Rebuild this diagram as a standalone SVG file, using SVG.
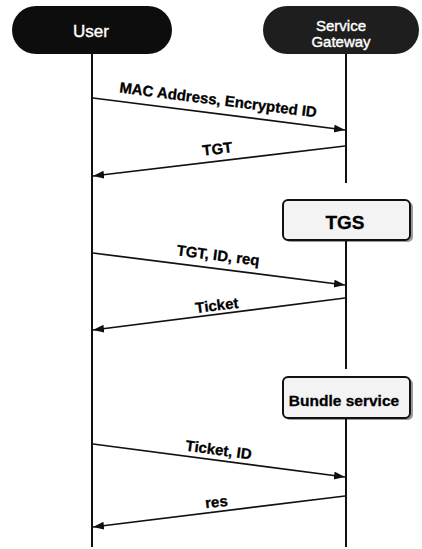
<svg xmlns="http://www.w3.org/2000/svg" width="422" height="549" viewBox="0 0 422 549">
<defs>
<style>
.pill{fill:#0d0d0d}
.pill2{fill:#1e1e1e}
.ptxt{font-family:"Liberation Sans",Arial,sans-serif;fill:#fff;text-anchor:middle;stroke:#fff;stroke-width:0.4}
.box{fill:#f3f3f3;stroke:#111;stroke-width:2}
.shadow{fill:#9a9a9a}
.btxt{font-family:"Liberation Sans",Arial,sans-serif;font-weight:bold;fill:#000;text-anchor:middle;stroke:#000;stroke-width:0.3}
.life{stroke:#111;stroke-width:2;fill:none}
.msg{stroke:#111;stroke-width:1.7;fill:none;marker-end:url(#ah)}
.lbl{font-family:"Liberation Sans",Arial,sans-serif;font-weight:bold;font-size:15px;fill:#000;text-anchor:middle;stroke:#000;stroke-width:0.3}
</style>
<marker id="ah" markerUnits="userSpaceOnUse" markerWidth="12" markerHeight="9" refX="11" refY="4" orient="auto">
<path d="M0,0 L11,4 L0,8 z" fill="#111"/>
</marker>
</defs>
<rect width="422" height="549" fill="#fff"/>

<g id="user">
<rect class="pill" x="12" y="6" width="160" height="48" rx="24"/>
<text class="ptxt" x="91" y="37" font-size="17">User</text>
</g>

<g id="service-gateway">
<rect class="pill2" x="263" y="6" width="156" height="48" rx="24"/>
<text class="ptxt" x="341" y="31" font-size="15">Service</text>
<text class="ptxt" x="341" y="47" font-size="15">Gateway</text>
</g>

<g id="tgs">
<rect class="shadow" x="285" y="202" width="128" height="40" rx="5"/>
<rect class="box" x="283" y="200" width="127" height="40" rx="5"/>
<text class="btxt" x="345" y="229" font-size="19">TGS</text>
</g>

<g id="bundle-service">
<rect class="shadow" x="285" y="379" width="128" height="41" rx="5"/>
<rect class="box" x="283" y="377" width="127" height="41" rx="5"/>
<text class="btxt" x="344" y="406" font-size="15.5">Bundle service</text>
</g>

<g id="lifelines">
<line class="life" x1="92" y1="54" x2="92" y2="547"/>
<line class="life" x1="346" y1="54" x2="346" y2="183"/>
<line class="life" x1="346" y1="240" x2="346" y2="369"/>
<line class="life" x1="346" y1="418" x2="346" y2="547"/>
</g>

<g id="connectors">
<line class="msg" x1="93" y1="98" x2="345" y2="130"/>
<line class="msg" x1="345" y1="146" x2="93" y2="176"/>
<line class="msg" x1="93" y1="253" x2="345" y2="285"/>
<line class="msg" x1="345" y1="298" x2="93" y2="330"/>
<line class="msg" x1="93" y1="444" x2="345" y2="477"/>
<line class="msg" x1="345" y1="496" x2="93" y2="527"/>
</g>

<g id="labels">
<text class="lbl" transform="translate(217.5,105) rotate(7.2)">MAC Address, Encrypted ID</text>
<text class="lbl" transform="translate(218,154) rotate(-6.7)">TGT</text>
<text class="lbl" transform="translate(217.5,260.5) rotate(7.2)">TGT, ID, req</text>
<text class="lbl" transform="translate(217.5,310.5) rotate(-7.2)">Ticket</text>
<text class="lbl" transform="translate(218,455) rotate(7.6)">Ticket, ID</text>
<text class="lbl" transform="translate(217,507) rotate(-7)">res</text>
</g>
</svg>
